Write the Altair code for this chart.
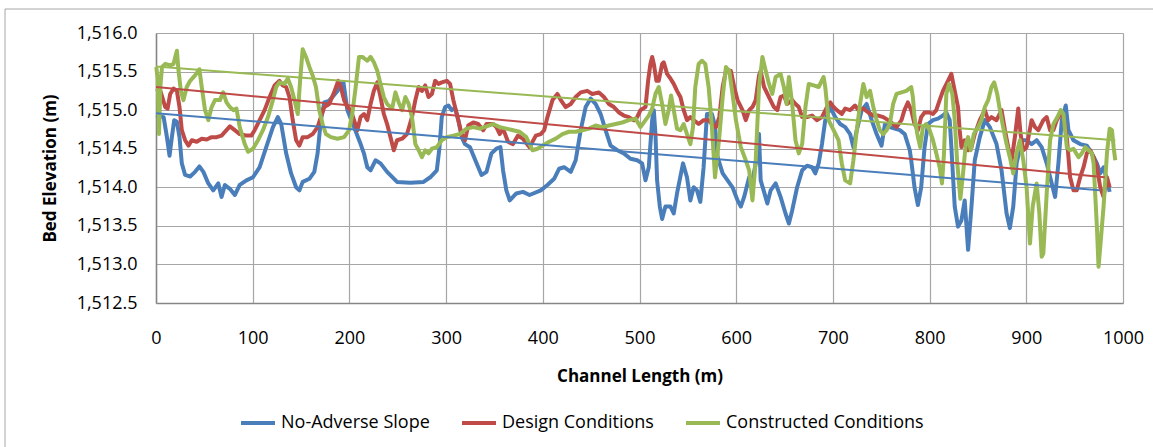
import altair as alt
import pandas as pd

# ---- No-Adverse Slope (blue) ----
blue_x = [0, 7.9, 11.3, 14, 16.4, 18.8, 21.6, 24.3, 26.7, 30.1, 35.3, 40.4, 44.9, 49, 54.1, 59.2, 64.4, 67.8,
          71.2, 76.4, 81.5, 86.6, 93.5, 100.3, 107.2, 114, 120.9, 126, 129.5, 134.6, 139.7, 144.9, 148.3,
          151.7, 158.6, 163.7, 167.1, 170.5, 174, 179, 187.7, 193.8, 197.9, 204.8, 211.6, 215, 218.5, 221.9,
          227, 232.2, 239, 249.3, 263, 276.7, 283.6, 290.4, 293.2, 295.5, 299, 302.4, 305.8, 309.2, 312.7,
          316.1, 319.5, 324.7, 331.5, 336.6, 341.8, 346.9, 352, 356.2, 358.9, 362.3, 365.8, 372.6, 379.5,
          386.3, 397.9, 404.8, 411.7, 416.8, 422, 428.9, 434, 439.2, 444.3, 449.5, 454.6, 459.8, 464.9,
          470.1, 477, 483.8, 490.7, 497.6, 502.7, 506.2, 509.6, 513.1, 514.8, 516.5, 518.2, 521, 523.4,
          526.8, 532, 535.4, 538.8, 545, 549.1, 552.6, 556, 559.5, 562.9, 566.3, 569.8, 574.9, 578, 580.8,
          586, 591.1, 596.2, 601.4, 604.8, 608.2, 613.4, 616.8, 620.2, 623.6, 625.3, 628.8, 632.2, 635.6,
          640.8, 645.9, 651, 654.5, 657.9, 663, 668.2, 673.3, 678.4, 681.8, 685.3, 688.7, 692.1, 697.3,
          702.4, 707.5, 712.7, 717.8, 721.2, 724.7, 729.8, 734.9, 740.1, 745.2, 750.3, 753.8, 758.9, 764,
          769.2, 774.3, 779.5, 781, 784.4, 787.9, 791.3, 794.8, 798.3, 803.5, 808.7, 813.8, 817.3, 820.8,
          822.5, 826, 829.4, 832.9, 836.3, 839.8, 843.3, 846.7, 851.9, 857.1, 862.3, 869.2, 874.4, 879.6,
          883, 886.5, 890, 895.2, 900.3, 905.5, 910.7, 915.9, 921.1, 926.3, 929.8, 933.2, 936.7, 940.8,
          943.6, 948.8, 955.7, 962.6, 967.8, 973, 976.5, 979.9, 983.4, 986.2]
blue_y = [1514.93, 1514.91, 1514.65, 1514.41, 1514.65, 1514.87, 1514.85, 1514.65, 1514.31, 1514.16, 1514.14,
          1514.20, 1514.27, 1514.20, 1514.05, 1513.96, 1514.05, 1513.875, 1514.03, 1513.98, 1513.90, 1514.03,
          1514.09, 1514.13, 1514.26, 1514.52, 1514.78, 1514.91, 1514.82, 1514.44, 1514.18, 1514.00, 1513.96,
          1514.07, 1514.11, 1514.20, 1514.44, 1514.87, 1515.10, 1515.12, 1515.25, 1515.36, 1515.00, 1514.78,
          1514.56, 1514.44, 1514.26, 1514.22, 1514.35, 1514.31, 1514.20, 1514.07, 1514.06, 1514.07, 1514.13,
          1514.22, 1514.52, 1514.91, 1515.04, 1515.06, 1515.00, 1515.03, 1514.87, 1514.65, 1514.56, 1514.52,
          1514.31, 1514.16, 1514.20, 1514.44, 1514.50, 1514.52, 1514.22, 1513.96, 1513.83, 1513.92, 1513.94,
          1513.90, 1513.96, 1514.03, 1514.11, 1514.24, 1514.26, 1514.20, 1514.35, 1514.74, 1515.04, 1515.15,
          1515.08, 1514.95, 1514.74, 1514.54, 1514.48, 1514.44, 1514.37, 1514.35, 1514.31, 1514.09, 1514.26,
          1514.87, 1515.00, 1514.69, 1514.09, 1513.75, 1513.59, 1513.75, 1513.75, 1513.66, 1513.92, 1514.31,
          1514.13, 1513.83, 1514.00, 1513.96, 1513.81, 1514.26, 1514.95, 1514.95, 1514.80, 1514.39, 1514.18,
          1514.09, 1514.00, 1513.83, 1513.75, 1513.875, 1514.13, 1514.09, 1514.31, 1514.69, 1514.09, 1513.94,
          1513.79, 1513.96, 1514.05, 1513.875, 1513.66, 1513.53, 1513.70, 1514.00, 1514.22, 1514.28, 1514.26,
          1514.18, 1514.31, 1514.56, 1514.87, 1515.04, 1514.91, 1514.82, 1514.78, 1514.69, 1514.52, 1514.74,
          1515.00, 1515.08, 1514.87, 1514.69, 1514.54, 1514.82, 1514.78, 1514.76, 1514.74, 1514.69, 1514.48,
          1514.35, 1514.00, 1513.77, 1514.00, 1514.52, 1514.82, 1514.87, 1514.89, 1514.93, 1514.97, 1514.87,
          1514.52, 1513.75, 1513.49, 1513.57, 1513.83, 1513.19, 1513.75, 1514.35, 1514.65, 1514.87, 1514.78,
          1514.56, 1514.22, 1513.66, 1513.47, 1513.75, 1514.31, 1514.61, 1514.61, 1514.56, 1514.61, 1514.52,
          1514.31, 1514.05, 1513.875, 1514.31, 1514.87, 1515.06, 1514.74, 1514.61, 1514.56, 1514.54, 1514.44,
          1514.31, 1514.18, 1514.26, 1514.09, 1513.94]

# ---- Design Conditions (red) ----
red_x = [0.3, 4.5, 9.6, 12, 14.7, 18.2, 21.6, 24.3, 26.7, 30.1, 33.6, 37, 42.1, 47.3, 52.4, 57.5, 62.7, 67.8,
         72.9, 76.4, 81.5, 86.6, 93.5, 98.6, 102, 107.2, 112.3, 117.5, 122.6, 127.7, 131.2, 134.6, 138, 141.4,
         144.9, 148.3, 151.7, 156.8, 162, 167.1, 170.5, 174, 179.1, 184.2, 188.4, 191.1, 194.5, 198, 201.4,
         204.8, 208.2, 211.6, 215.1, 218.5, 221.9, 225.3, 228.8, 232.2, 235.6, 239, 242.5, 245.9, 249.3, 254.5,
         259.6, 264.7, 268.2, 271.6, 275, 278.4, 281.8, 285.3, 288.7, 292.1, 295.5, 300.7, 304.1, 307.5, 311,
         316.1, 319.5, 322.9, 328.1, 333.2, 338.4, 341.8, 348.6, 352, 355.5, 358.9, 364, 369.2, 374.3, 379.5,
         386.3, 392.8, 397.9, 401.4, 404.8, 410, 415.1, 418.6, 423.7, 428.9, 434, 439.2, 446, 451.2, 458, 463.2,
         468.4, 473.5, 478.7, 483.8, 489, 494.2, 497.6, 501, 506.2, 508.9, 511.3, 513.1, 514.8, 517.5, 519.9,
         523.4, 525.1, 528.5, 532, 535.4, 538.8, 542.3, 545.7, 549.1, 552.6, 556, 561.2, 566.3, 571.5, 574.9,
         579.1, 582.5, 586, 589.4, 594.5, 597.9, 601.4, 606.5, 609.9, 613.4, 616.8, 620.2, 623.6, 625.3,
         628.8, 633.9, 639, 642.5, 645.9, 649.3, 652.7, 657.9, 661.3, 664.7, 668.2, 673.3, 678.4, 683.6,
         688.7, 693.8, 697.3, 700.7, 704.1, 709.2, 712.7, 717.8, 722.9, 726.4, 731.5, 736.6, 741.8, 746.9,
         752.1, 757.2, 762.3, 765.8, 770.9, 774, 777.5, 781, 784.4, 787.9, 791.3, 794.8, 800, 803.5, 806.9,
         810.4, 813.8, 819, 822.5, 826, 829.4, 831.1, 832.9, 836.3, 839.8, 843.3, 846.7, 851.9, 857.1, 860.6,
         864, 869.2, 874.4, 877.9, 881.3, 884.8, 888.2, 891.7, 894.1, 896.9, 900.3, 905.5, 909, 912.5, 917.6,
         921.1, 924.6, 928, 931.5, 935, 938.4, 941.9, 945.3, 948.8, 952.2, 955.7, 959.2, 962.6, 966.1, 969.6,
         973, 976.5, 979.9, 983.4, 986.2]
red_y = [1515.28, 1515.25, 1515.04, 1515.02, 1515.21, 1515.28, 1515.25, 1515.04, 1514.74, 1514.61, 1514.54,
         1514.61, 1514.59, 1514.63, 1514.62, 1514.65, 1514.65, 1514.67, 1514.74, 1514.79, 1514.74, 1514.69,
         1514.67, 1514.67, 1514.74, 1514.87, 1515.00, 1515.17, 1515.32, 1515.38, 1515.32, 1515.30, 1515.17,
         1514.87, 1514.61, 1514.54, 1514.65, 1514.65, 1514.69, 1514.78, 1514.91, 1515.04, 1515.08, 1515.23,
         1515.38, 1515.30, 1515.13, 1515.04, 1515.00, 1514.87, 1514.74, 1514.91, 1514.95, 1514.87, 1515.08,
         1515.25, 1515.36, 1515.17, 1514.95, 1514.82, 1514.65, 1514.48, 1514.61, 1514.63, 1514.69, 1514.91,
         1515.13, 1515.30, 1515.25, 1515.32, 1515.17, 1515.21, 1515.38, 1515.34, 1515.36, 1515.38, 1515.34,
         1515.13, 1514.95, 1514.69, 1514.61, 1514.80, 1514.84, 1514.82, 1514.74, 1514.82, 1514.82, 1514.78,
         1514.69, 1514.76, 1514.59, 1514.56, 1514.67, 1514.63, 1514.52, 1514.67, 1514.69, 1514.74, 1514.91,
         1515.13, 1515.21, 1515.13, 1515.04, 1515.08, 1515.17, 1515.23, 1515.25, 1515.21, 1515.23, 1515.17,
         1515.08, 1515.04, 1514.97, 1514.93, 1514.91, 1514.87, 1514.91, 1515.00, 1515.04, 1515.38, 1515.60,
         1515.69, 1515.60, 1515.38, 1515.38, 1515.60, 1515.62, 1515.47, 1515.41, 1515.34, 1515.25, 1515.17,
         1515.00, 1514.87, 1514.91, 1514.87, 1514.82, 1514.87, 1514.87, 1514.82, 1514.78, 1514.91, 1515.30,
         1515.51, 1515.51, 1515.30, 1515.13, 1515.00, 1514.87, 1515.00, 1515.04, 1515.13, 1515.45, 1515.51,
         1515.30, 1515.17, 1515.04, 1515.00, 1515.17, 1515.19, 1515.08, 1515.13, 1515.08, 1515.04, 1514.91,
         1514.91, 1514.93, 1514.87, 1514.91, 1515.04, 1515.10, 1515.04, 1515.00, 1514.95, 1515.02, 1515.00,
         1515.06, 1515.00, 1515.02, 1514.97, 1514.93, 1514.93, 1514.91, 1514.87, 1514.82, 1514.78, 1514.87,
         1515.00, 1515.10, 1515.00, 1514.82, 1514.74, 1514.91, 1514.97, 1514.97, 1514.95, 1515.00, 1515.13,
         1515.25, 1515.38, 1515.47, 1515.25, 1515.04, 1514.74, 1514.52, 1514.61, 1514.48, 1514.52, 1514.69,
         1514.87, 1515.00, 1514.87, 1514.91, 1514.87, 1515.00, 1514.74, 1514.52, 1514.35, 1514.65, 1515.02,
         1514.69, 1514.48, 1514.52, 1514.87, 1514.78, 1514.74, 1514.87, 1514.91, 1514.74, 1514.74, 1514.87,
         1514.95, 1514.91, 1514.65, 1514.13, 1513.96, 1513.96, 1514.13, 1514.26, 1514.44, 1514.48, 1514.39,
         1514.26, 1514.00, 1513.875, 1514.13, 1514.00]

# ---- Constructed Conditions (green) ----
green_x = [0.3, 1.7, 3.1, 4.5, 6.2, 9.6, 14.7, 18.2, 19.9, 21.6, 23.3, 25.7, 28.4, 31.8, 35.3, 40.4, 44.9, 47.3,
           50.7, 54.1, 57.5, 61, 66.1, 69.5, 72.9, 76.4, 79.8, 83.2, 86.6, 91.8, 95.2, 100.3, 105.5, 110.6,
           115.8, 120.9, 124.3, 127.7, 132.9, 136.3, 139.7, 143.2, 146.6, 149, 151.7, 155.1, 158.6, 162,
           165.4, 168.8, 172.3, 175.7, 180.8, 187.7, 194.5, 199.7, 203, 206.5, 209.9, 213.4, 218.5, 221.9,
           225.3, 228.8, 232.2, 235.6, 239, 244.2, 247.6, 251, 254.5, 257.9, 261.3, 264.7, 268.2, 271.6, 275,
           278.4, 281.8, 285.3, 290.4, 295.5, 300.7, 307.5, 314.4, 321.2, 328.1, 334.9, 341.8, 348.6, 355.5,
           362.3, 369.2, 376, 382.9, 389.3, 394.5, 399.7, 406.5, 413.4, 420.3, 427.1, 434, 440.9, 447.8,
           454.6, 461.5, 468.4, 475.3, 482.1, 489, 495.9, 501, 506.2, 509.6, 513.1, 516.5, 519.9, 523.4,
           526.8, 530.2, 532.6, 535.4, 538.8, 542.3, 545.7, 549.1, 552.6, 555.3, 557.7, 561.2, 564.6, 568,
           571.5, 574.9, 578.1, 582.5, 586, 589.4, 592.8, 596.2, 599.7, 604.8, 609.9, 613.4, 616.8, 620.2,
           623.6, 627.1, 630.5, 633.9, 637.3, 640.8, 645.9, 649.3, 652.1, 654.5, 657.9, 661.3, 664.7, 668.2,
           671.6, 675, 680.1, 685.3, 690.4, 692.1, 695.5, 700.7, 705.8, 709.2, 712.7, 717.8, 721.2, 724.7,
           728.1, 731.5, 734.9, 738.4, 741.8, 745.2, 748.6, 752.1, 755.5, 758.9, 762.3, 765.8, 770.9, 776,
           781, 782.7, 784.4, 787.9, 790.3, 793.1, 796.5, 800, 803.5, 806.9, 810.4, 812.8, 814.9, 817.3,
           820.1, 823.5, 826, 828.4, 831.8, 834.6, 837.4, 839.8, 842.6, 845.7, 850.2, 853.6, 857.1, 860.6,
           864, 866.8, 869.9, 872.7, 876.1, 879.6, 883, 886.5, 890, 893.4, 896.9, 900.3, 903.8, 906.6, 910.7,
           913.5, 915.9, 917.6, 921.1, 924.6, 928, 932.2, 935.6, 938.4, 941.9, 945.3, 948.8, 954, 957.4,
           960.9, 964.4, 967.8, 969.6, 973, 974.7, 976.5, 979.9, 983.4, 986.2, 988.6, 990.3, 992]
green_y = [1515.56, 1515.41, 1514.69, 1515.30, 1515.56, 1515.60, 1515.58, 1515.60, 1515.69, 1515.77, 1515.51,
           1515.25, 1515.13, 1515.30, 1515.38, 1515.45, 1515.53, 1515.30, 1515.00, 1514.87, 1515.04, 1515.13,
           1515.13, 1515.23, 1515.10, 1515.04, 1515.00, 1515.02, 1514.78, 1514.56, 1514.46, 1514.50, 1514.61,
           1514.74, 1514.91, 1515.13, 1515.30, 1515.36, 1515.34, 1515.41, 1515.30, 1515.13, 1514.95, 1515.38,
           1515.79, 1515.69, 1515.56, 1515.45, 1515.30, 1515.00, 1514.82, 1514.69, 1514.65, 1514.63, 1514.65,
           1514.74, 1514.95, 1515.30, 1515.69, 1515.69, 1515.64, 1515.69, 1515.62, 1515.51, 1515.34, 1515.17,
           1515.08, 1515.02, 1515.23, 1515.10, 1515.00, 1515.17, 1515.08, 1514.91, 1514.56, 1514.48, 1514.39,
           1514.48, 1514.44, 1514.50, 1514.52, 1514.61, 1514.65, 1514.67, 1514.69, 1514.76, 1514.78, 1514.76,
           1514.79, 1514.82, 1514.78, 1514.76, 1514.74, 1514.72, 1514.65, 1514.48, 1514.50, 1514.54, 1514.59,
           1514.63, 1514.69, 1514.72, 1514.72, 1514.74, 1514.76, 1514.80, 1514.78, 1514.80, 1514.82, 1514.84,
           1514.87, 1514.89, 1514.78, 1514.87, 1514.93, 1515.02, 1515.21, 1515.30, 1515.08, 1514.82, 1515.00,
           1515.19, 1515.00, 1514.76, 1514.74, 1514.82, 1514.69, 1514.56, 1514.78, 1515.30, 1515.60, 1515.64,
           1515.60, 1515.30, 1514.78, 1514.13, 1514.65, 1515.17, 1515.56, 1515.51, 1515.21, 1514.87, 1514.52,
           1514.35, 1514.22, 1513.83, 1514.35, 1515.30, 1515.69, 1515.51, 1515.34, 1515.21, 1515.43, 1515.47,
           1515.30, 1515.08, 1515.43, 1515.08, 1514.61, 1514.44, 1514.56, 1515.04, 1515.34, 1515.32, 1515.30,
           1515.43, 1515.30, 1514.87, 1514.74, 1514.61, 1514.31, 1514.09, 1514.05, 1514.35, 1514.74, 1515.08,
           1515.34, 1515.17, 1515.25, 1515.04, 1514.87, 1514.74, 1514.69, 1514.74, 1514.82, 1515.08, 1515.21,
           1515.23, 1515.25, 1515.30, 1515.17, 1514.91, 1514.65, 1514.52, 1514.78, 1514.82, 1514.74, 1514.61,
           1514.44, 1514.26, 1514.05, 1514.44, 1515.21, 1515.34, 1515.21, 1514.87, 1514.35, 1513.85, 1514.18,
           1514.56, 1514.65, 1514.48, 1514.69, 1514.78, 1514.87, 1515.04, 1515.13, 1515.30, 1515.36, 1515.21,
           1515.00, 1514.78, 1514.56, 1514.39, 1514.18, 1514.44, 1514.61, 1514.35, 1514.00, 1513.27, 1513.75,
           1514.05, 1513.66, 1513.10, 1513.14, 1513.92, 1514.61, 1514.82, 1514.91, 1515.00, 1514.95, 1514.52,
           1514.48, 1514.50, 1514.39, 1514.44, 1514.52, 1514.48, 1514.44, 1514.31, 1513.49, 1512.97, 1513.23,
           1513.75, 1514.44, 1514.76, 1514.74, 1514.52, 1514.35]

# ---- linear trend lines (read endpoints) ----
trend_x = [[0, 976], [0, 981], [0, 992]]
trend_y = [[1514.96, 1513.96], [1515.30, 1514.13], [1515.565, 1514.61]]

series_names = ["No-Adverse Slope", "Design Conditions", "Constructed Conditions"]
series_colors = ["#4A7EBB", "#BE4B48", "#98B954"]
y_ticks = [1512.5, 1513.0, 1513.5, 1514.0, 1514.5, 1515.0, 1515.5, 1516.0]
x_ticks = [0, 100, 200, 300, 400, 500, 600, 700, 800, 900, 1000]

FONT = "Open Sans"

rows = []
for name, xs, ys in zip(series_names, [blue_x, red_x, green_x], [blue_y, red_y, green_y]):
    for xv, yv in zip(xs, ys):
        rows.append({"x": xv, "y": yv, "series": name})
df = pd.DataFrame(rows)

trows = []
for name, xs, ys in zip(series_names, trend_x, trend_y):
    for xv, yv in zip(xs, ys):
        trows.append({"x": xv, "y": yv, "series": name})
tdf = pd.DataFrame(trows)

color_scale = alt.Scale(domain=series_names, range=series_colors)

x_enc = alt.X("x:Q", scale=alt.Scale(domain=[0, 1000], nice=False),
              axis=alt.Axis(values=x_ticks, format="d", title="Channel Length (m)",
                            titleY=73, titleBaseline="middle"))
y_enc = alt.Y("y:Q", scale=alt.Scale(domain=[1512.5, 1516.0], nice=False, zero=False),
              axis=alt.Axis(values=y_ticks, format=",.1f", title="Bed Elevation (m)",
                            titleAngle=270, titleX=-106, titleY=135, titleAlign="center",
                            titleBaseline="middle"))
c_enc = alt.Color("series:N", scale=color_scale)

frame = alt.Chart(pd.DataFrame({"a": [0]})).mark_rect(
    fill="transparent", stroke="#A6A6A6", strokeWidth=1
).encode(x=alt.value(-151), x2=alt.value(1000), y=alt.value(-24), y2=alt.value(420))

layers = [frame]
for name in series_names:
    layers.append(
        alt.Chart(df).transform_filter(alt.datum.series == name)
        .mark_line(strokeWidth=4, strokeJoin="round")
        .encode(x=x_enc, y=y_enc, color=c_enc)
    )
for name in series_names:
    layers.append(
        alt.Chart(tdf).transform_filter(alt.datum.series == name)
        .mark_line(strokeWidth=2)
        .encode(x=x_enc, y=y_enc, color=c_enc)
    )

chart = alt.layer(*layers).properties(
    width=967, height=270,
    autosize="none",
    padding={"left": 156, "top": 33, "right": 30, "bottom": 144},
    background="white",
).configure_view(stroke=None).configure_axis(
    labelFont=FONT, labelFontSize=18, labelColor="#000000",
    titleFont=FONT, titleFontSize=17, titleFontWeight="bold", titleColor="#000000",
    ticks=False, tickSize=0, labelFlush=False, labelOverlap=False, labelBound=False,
    domainColor="#868686", domainWidth=1.5, gridColor="#A6A6A6", gridWidth=1.2,
).configure_axisX(labelPadding=26).configure_axisY(labelPadding=19).configure_legend(
    orient="none", legendX=83, legendY=371, direction="horizontal", columns=3,
    title=None, symbolType="stroke", symbolSize=1156, symbolStrokeWidth=4,
    labelFont=FONT, labelFontSize=18, labelColor="#000000", labelOffset=4,
    columnPadding=24, padding=0, offset=0, labelLimit=400,
)

chart.save("out.html", embed_options={"renderer": "svg", "actions": False})
